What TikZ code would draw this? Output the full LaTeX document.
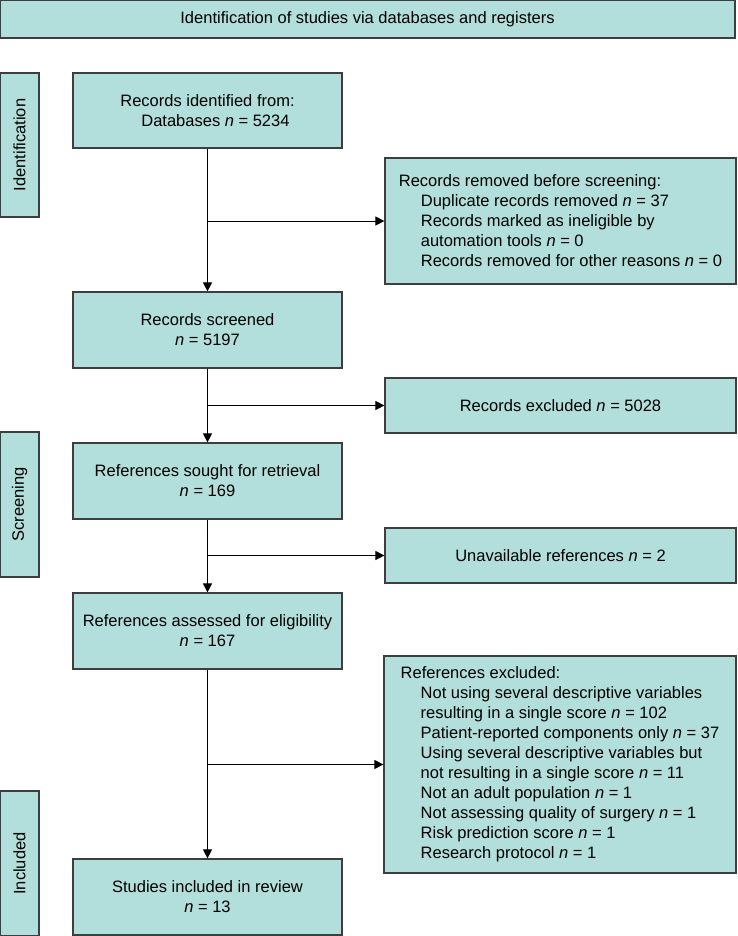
\documentclass[tikz,border=0pt]{standalone}
\usepackage{fontspec}
\setmainfont{Liberation Sans}
\usetikzlibrary{arrows.meta}
\definecolor{boxfill}{HTML}{B2DFDB}
\definecolor{boxline}{HTML}{3E3E3E}
\newcommand{\nn}[1]{\textit{n} = #1}
\tikzset{
  box/.style={draw=boxline, fill=boxfill, line width=1.2pt, inner sep=0pt,
    font=\fontsize{16.5pt}{20pt}\selectfont, align=center},
  lbox/.style={box, align=left},
  side/.style={box, rotate=90},
  arr/.style={draw=black, line width=1pt, -{Triangle[length=9pt,width=9pt]}},
  ln/.style={draw=black, line width=1pt}
}
\begin{document}
\begin{tikzpicture}[x=1pt,y=-1pt]
\useasboundingbox (0,0) rectangle (737,936);
% banner
\node[box, minimum width=735pt, minimum height=38pt] (top) at (367.5,19) {Identification of studies via databases and registers};
% side labels
\node[side, minimum width=144pt, minimum height=39pt] (sI) at (19.5,145) {Identification};
\node[side, minimum width=145pt, minimum height=39pt] (sS) at (19.5,504.5) {Screening};
\node[side, minimum width=145pt, minimum height=39pt] (sN) at (19.5,863.5) {Included};
% main column
\node[lbox, minimum width=269pt, minimum height=75pt] (b1) at (207.5,110.5)
  {Records identified from:\\\hspace*{21pt}Databases \nn{5234}};
\node[box, minimum width=269pt, minimum height=76pt] (b2) at (207.5,330)
  {Records screened\\\nn{5197}};
\node[box, minimum width=269pt, minimum height=76pt] (b3) at (207.5,481)
  {References sought for retrieval\\\nn{169}};
\node[box, minimum width=269pt, minimum height=76pt] (b4) at (207.5,631)
  {References assessed for eligibility\\\nn{167}};
\node[box, minimum width=269pt, minimum height=76pt] (b5) at (207.5,897)
  {Studies included in review\\\nn{13}};
% right column
\node[lbox, minimum width=351pt, minimum height=126pt] (r1) at (560.5,221)
  {Records removed before screening:\\
   \hspace*{22pt}Duplicate records removed \nn{37}\\
   \hspace*{22pt}Records marked as ineligible by\\
   \hspace*{22pt}automation tools \nn{0}\\
   \hspace*{22pt}Records removed for other reasons \nn{0}};
\node[box, minimum width=351pt, minimum height=55pt] (r2) at (560.5,405.5)
  {Records excluded \nn{5028}};
\node[box, minimum width=351pt, minimum height=55pt] (r3) at (560.5,555.5)
  {Unavailable references \nn{2}};
\node[lbox, minimum width=352pt, minimum height=217pt] (r4) at (560,764.5)
  {References excluded:\\
   \hspace*{20pt}Not using several descriptive variables\\
   \hspace*{20pt}resulting in a single score \nn{102}\\
   \hspace*{20pt}Patient-reported components only \nn{37}\\
   \hspace*{20pt}Using several descriptive variables but\\
   \hspace*{20pt}not resulting in a single score \nn{11}\\
   \hspace*{20pt}Not an adult population \nn{1}\\
   \hspace*{20pt}Not assessing quality of surgery \nn{1}\\
   \hspace*{20pt}Risk prediction score \nn{1}\\
   \hspace*{20pt}Research protocol \nn{1}};
% branch points
\coordinate (j1) at (b1.south |- r1.west);
\coordinate (j2) at (b2.south |- r2.west);
\coordinate (j3) at (b3.south |- r3.west);
\coordinate (j4) at (b4.south |- r4.west);
% connectors
\draw[arr] (b1.south) -- (b2.north);
\draw[arr] (j1) -- (r1.west);
\draw[arr] (b2.south) -- (b3.north);
\draw[arr] (j2) -- (r2.west);
\draw[arr] (b3.south) -- (b4.north);
\draw[arr] (j3) -- (r3.west);
\draw[arr] (b4.south) -- (b5.north);
\draw[arr] (j4) -- (r4.west);
\end{tikzpicture}
\end{document}
